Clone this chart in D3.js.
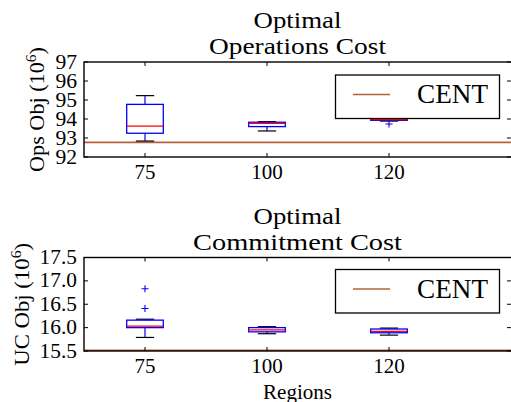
<!DOCTYPE html>
<html>
<head>
<meta charset="utf-8">
<script src="https://cdn.jsdelivr.net/npm/d3@7"></script>
<style>
  body { margin: 0; background: #fff; }
  svg { display: block; }
  text { font-family: "Liberation Serif", "DejaVu Serif", serif; fill: #000; }
</style>
</head>
<body>
<div id="chart"></div>
<script>
const regions = ["75", "100", "120"];

// box stats per region: [whiskerLow, q1, median, q3, whiskerHigh]
const opsBoxes = [
  [92.84, 93.25, 93.63, 94.77, 95.23],
  [93.37, 93.6, 93.77, 93.83, 93.86],
  [93.89, 93.93, 93.97, 94.0, 94.05]
];
const opsFliers = [[], [], [93.74]];
const opsCent = 92.77;
const opsTicks = [92, 93, 94, 95, 96, 97];

const ucBoxes = [
  [15.79, 16.0, 16.03, 16.16, 16.18],
  [15.87, 15.91, 15.95, 16.0, 16.02],
  [15.84, 15.89, 15.92, 15.97, 15.99]
];
const ucFliers = [[16.83, 16.41], [], []];
const ucCent = 15.515;
const ucTicks = [15.5, 16.0, 16.5, 17.0, 17.5];

const W = 511, H = 402;
const svg = d3.select("#chart").append("svg").attr("width", W).attr("height", H);

const x = d3.scaleLinear().domain([0.5, 4.0]).range([84, 511]);
const centColor = "#b5613b";

// stretch text to the width it has in the reference (Computer Modern is wider)
function fit(sel, w) {
  return sel.attr("textLength", w).attr("lengthAdjust", "spacingAndGlyphs");
}

function panel(opt) {
  const y = d3.scaleLinear().domain(opt.domain).range([opt.bottom, opt.top]);
  const g = svg.append("g");

  // CENT line
  g.append("line")
    .attr("x1", x(0.5)).attr("x2", x(4.0))
    .attr("y1", y(opt.cent)).attr("y2", y(opt.cent))
    .attr("stroke", centColor).attr("stroke-width", 1.6);

  opt.boxes.forEach((b, i) => {
    const cx = x(i + 1);
    const bw = x(1.3) - x(1.0);
    const cw = bw / 2;
    g.append("line").attr("x1", cx).attr("x2", cx).attr("y1", y(b[3])).attr("y2", y(b[4]))
      .attr("stroke", "#0000ff").attr("stroke-width", 1.2);
    g.append("line").attr("x1", cx).attr("x2", cx).attr("y1", y(b[0])).attr("y2", y(b[1]))
      .attr("stroke", "#0000ff").attr("stroke-width", 1.2);
    [b[0], b[4]].forEach(v => {
      g.append("line").attr("x1", cx - cw / 2).attr("x2", cx + cw / 2).attr("y1", y(v)).attr("y2", y(v))
        .attr("stroke", "#000").attr("stroke-width", 1.2);
    });
    g.append("rect").attr("x", cx - bw / 2).attr("y", y(b[3]))
      .attr("width", bw).attr("height", Math.max(y(b[1]) - y(b[3]), 0.5))
      .attr("fill", "none").attr("stroke", "#0000ff").attr("stroke-width", 1.3);
    g.append("line").attr("x1", cx - bw / 2).attr("x2", cx + bw / 2).attr("y1", y(b[2])).attr("y2", y(b[2]))
      .attr("stroke", "#ff0000").attr("stroke-width", 1.2);
    opt.fliers[i].forEach(v => {
      g.append("path").attr("d", `M${cx - 3.5},${y(v)}h7M${cx},${y(v) - 3.5}v7`)
        .attr("stroke", "#0000ff").attr("stroke-width", 1.1).attr("fill", "none");
    });
  });

  // spines
  g.append("rect").attr("x", x(0.5)).attr("y", opt.top)
    .attr("width", x(4.0) - x(0.5) + 1).attr("height", opt.bottom - opt.top)
    .attr("fill", "none").attr("stroke", "#000").attr("stroke-width", 1.4);

  opt.ticks.forEach(t => {
    g.append("line").attr("x1", x(0.5)).attr("x2", x(0.5) + 4).attr("y1", y(t)).attr("y2", y(t))
      .attr("stroke", "#000").attr("stroke-width", 1);
    g.append("line").attr("x1", x(4.0) - 4).attr("x2", x(4.0)).attr("y1", y(t)).attr("y2", y(t))
      .attr("stroke", "#000").attr("stroke-width", 1);
    const s = opt.fmt(t);
    fit(g.append("text").attr("x", x(0.5) - 7).attr("y", y(t) + 6.5)
      .attr("text-anchor", "end").attr("font-size", 20).text(s),
      s.replace(".", "").length * 10.8 + (s.includes(".") ? 5 : 0));
  });

  regions.forEach((r, i) => {
    const cx = x(i + 1);
    g.append("line").attr("x1", cx).attr("x2", cx).attr("y1", opt.bottom).attr("y2", opt.bottom - 4)
      .attr("stroke", "#000").attr("stroke-width", 1);
    g.append("line").attr("x1", cx).attr("x2", cx).attr("y1", opt.top).attr("y2", opt.top + 4)
      .attr("stroke", "#000").attr("stroke-width", 1);
    fit(g.append("text").attr("x", cx).attr("y", opt.bottom + 22)
      .attr("text-anchor", "middle").attr("font-size", 20).text(r), r.length * 10.5);
  });

  const cxm = (x(0.5) + x(4.0)) / 2;
  fit(g.append("text").attr("x", cxm).attr("y", opt.top - 34).attr("text-anchor", "middle")
    .attr("font-size", 23).text("Optimal"), 88);
  fit(g.append("text").attr("x", cxm).attr("y", opt.top - 8).attr("text-anchor", "middle")
    .attr("font-size", 23).text(opt.title), opt.titleW);

  // y label, scaled along its length to the reference width
  const yl = g.append("text").attr("text-anchor", "middle").attr("font-size", 20);
  yl.append("tspan").text(opt.ylabel + " (10");
  yl.append("tspan").attr("font-size", 14).attr("dy", -8).text("6");
  yl.append("tspan").attr("dy", 8).text(")");
  const lw = yl.node().getBBox().width;
  yl.attr("transform", `translate(${opt.labelX},${(opt.top + opt.bottom) / 2}) rotate(-90) scale(${opt.labelW / lw},1)`);

  // legend
  const lg = g.append("g");
  lg.append("rect").attr("x", 335.5).attr("y", opt.legTop)
    .attr("width", 164).attr("height", 43.5)
    .attr("fill", "#fff").attr("stroke", "#000").attr("stroke-width", 1.3);
  lg.append("line").attr("x1", 353).attr("x2", 390)
    .attr("y1", opt.legTop + 19.5).attr("y2", opt.legTop + 19.5)
    .attr("stroke", centColor).attr("stroke-width", 1.6);
  fit(lg.append("text").attr("x", 417).attr("y", opt.legTop + 28).attr("font-size", 27).text("CENT"), 71);
}

panel({
  domain: [92, 97], top: 62, bottom: 157, boxes: opsBoxes, fliers: opsFliers, cent: opsCent,
  ticks: opsTicks, fmt: d3.format("d"), title: "Operations Cost", titleW: 177,
  ylabel: "Ops Obj", labelX: 44, labelW: 125, legTop: 75
});

panel({
  domain: [15.5, 17.5], top: 257.5, bottom: 351, boxes: ucBoxes, fliers: ucFliers, cent: ucCent,
  ticks: ucTicks, fmt: d3.format(".1f"), title: "Commitment Cost", titleW: 209,
  ylabel: "UC Obj", labelX: 29, labelW: 123, legTop: 269.5
});

fit(svg.append("text").attr("x", (x(0.5) + x(4.0)) / 2).attr("y", 399)
  .attr("text-anchor", "middle").attr("font-size", 20).text("Regions"), 69);
</script>
</body>
</html>
